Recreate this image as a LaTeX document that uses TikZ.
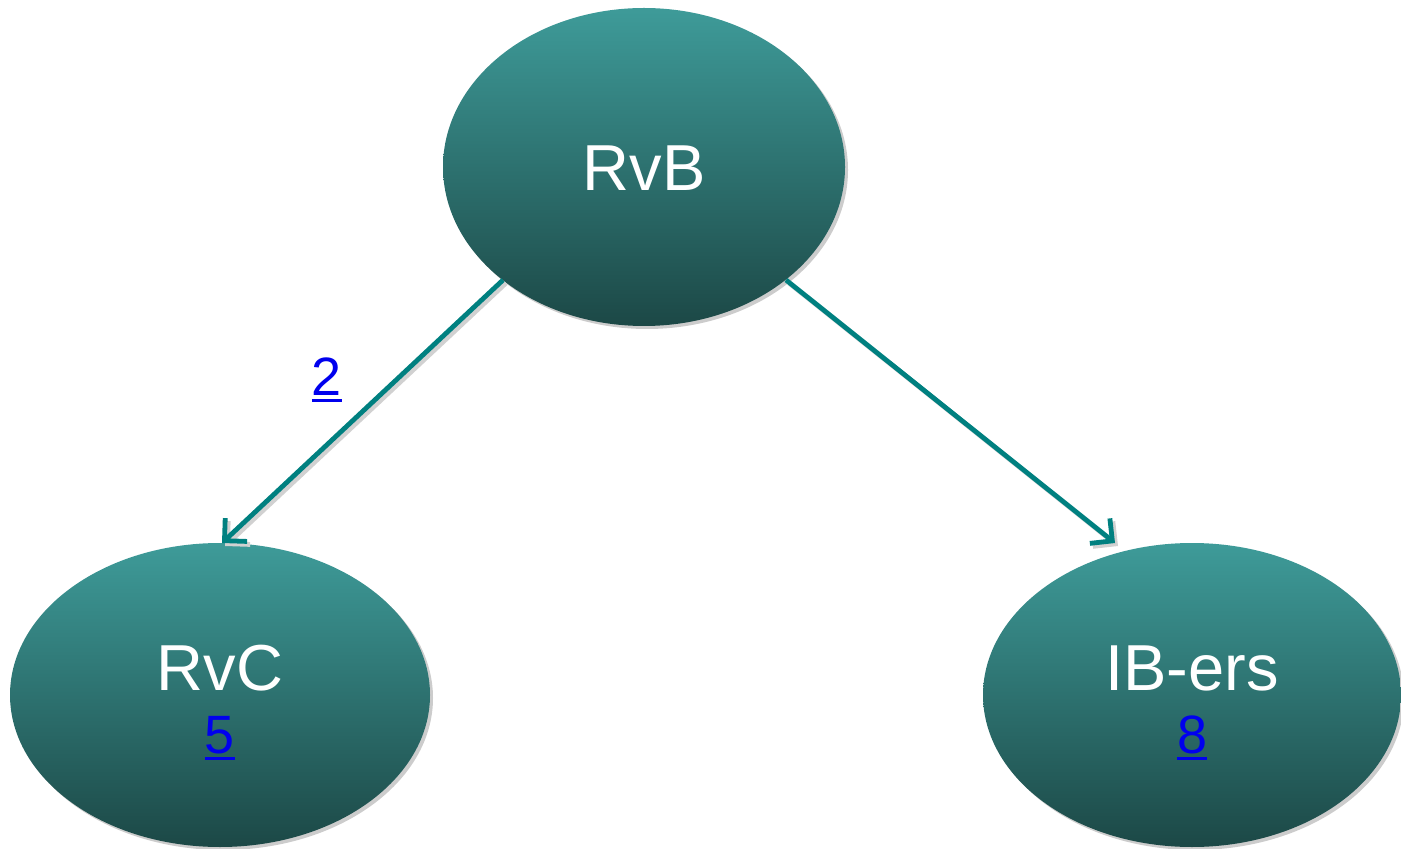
\documentclass[tikz,border=0pt]{standalone}
\usepackage{fontspec}
\setmainfont{Liberation Sans}
\usetikzlibrary{shapes.geometric,arrows.meta,shadows}
\definecolor{tealtop}{HTML}{3E9B99}
\definecolor{tealbot}{HTML}{1C4846}
\definecolor{arrowc}{HTML}{008080}
\definecolor{linkc}{HTML}{0000EE}
\newcommand\linkul[1]{\setbox0\hbox{#1}\rlap{\rule[-3pt]{\wd0}{1.2pt}}\box0}
\tikzset{
  bubble/.style={ellipse, inner sep=0pt, top color=tealtop, bottom color=tealbot,
    draw=none,
    drop shadow={shadow xshift=1.5pt, shadow yshift=-1.5pt, fill=black!20, opacity=1}},
  bubbletext/.style={text=white, font=\fontsize{32.5}{36}\selectfont},
  conn/.style={draw=arrowc, line width=2.4pt, -{Straight Barb[length=8pt,width=16pt,line width=2.4pt]},
    preaction={draw=black!18, line width=2.4pt, transform canvas={xshift=1.5pt,yshift=-1.5pt}}},
  linklabel/.style={text=linkc, font=\fontsize{27}{30}\selectfont, inner sep=0pt}
}
\begin{document}
\begin{tikzpicture}[x=0.5pt,y=-0.5pt]
\useasboundingbox (0,0) rectangle (1401,849);
\node[bubble, minimum width=201pt, minimum height=159pt] (rvb) at (644,167) {};
\node[bubble, minimum width=210pt, minimum height=152pt] (rvc) at (220,695) {};
\node[bubble, minimum width=209pt, minimum height=152pt] (ib) at (1192,695) {};
\node[bubbletext] (rvbt) at (644,168) {RvB};
\node[bubbletext] (rvct) at (220,668) {RvC};
\node[bubbletext] (ibt) at (1192,668) {IB-ers};
\node[linklabel] (five) at (220,738) {\linkul{5}};
\node[linklabel] (eight) at (1192,738) {\linkul{8}};
\coordinate (s1) at (503,280);
\coordinate (e1) at (222,543);
\coordinate (s2) at (786,280);
\coordinate (e2) at (1115,543);
\draw[conn] (s1) -- (e1);
\draw[conn] (s2) -- (e2);
\node[linklabel] (two) at (327,380) {\linkul{2}};
\end{tikzpicture}
\end{document}
